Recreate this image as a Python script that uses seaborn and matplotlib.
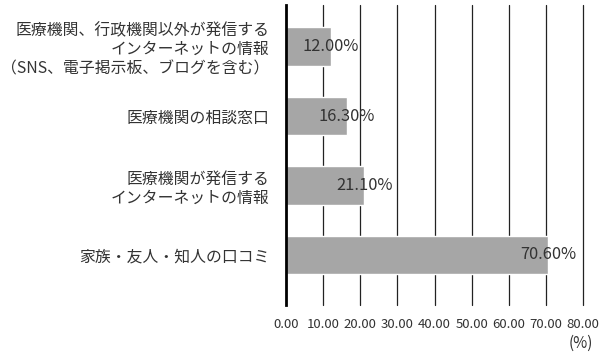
import matplotlib
matplotlib.use("Agg")
import matplotlib.pyplot as plt
import seaborn as sns
import pandas as pd

# データ
categories = [
    "医療機関、行政機関以外が発信する\nインターネットの情報\n（SNS、電子掲示板、ブログを含む）",
    "医療機関の相談窓口",
    "医療機関が発信する\nインターネットの情報",
    "家族・友人・知人の口コミ",
]
values = [12.00, 16.30, 21.10, 70.60]
xticks = [0, 10, 20, 30, 40, 50, 60, 70, 80]

df = pd.DataFrame({"cat": categories, "val": values})

sns.set_theme(style="white")
plt.rcParams["font.family"] = ["Noto Sans CJK JP", "DejaVu Sans"]

fig = plt.figure(figsize=(6, 3.59), dpi=100)
ax = fig.add_axes([0.4767, 0.1504, 0.495, 0.836])

sns.barplot(data=df, x="val", y="cat", orient="h", color="#a6a6a6",
            saturation=1, width=0.55, ax=ax, zorder=2)

ax.set_xlim(0, 80)
ax.set_ylim(3.72, -0.6)
ax.set_xticks(xticks)
ax.set_xticklabels([f"{t:.2f}" for t in xticks], fontsize=9.5, color="#333333")
ax.tick_params(axis="x", length=0, pad=9)
ax.tick_params(axis="y", length=0, pad=12)
for lbl in ax.get_yticklabels():
    lbl.set_fontsize(11.4)
    lbl.set_color("#333333")
    lbl.set_linespacing(1.18)
    lbl.set_multialignment("right")

ax.set_xlabel("")
ax.set_ylabel("")
for s in ["top", "right", "bottom"]:
    ax.spines[s].set_visible(False)
ax.spines["left"].set_color("black")
ax.spines["left"].set_linewidth(2)
ax.spines["left"].set_zorder(4)

# 縦のグリッド線
for t in xticks[1:]:
    ax.axvline(t, color="#222222", linewidth=0.9, zorder=1, clip_on=False)

for i, v in enumerate(values):
    ax.text(v, i, f"{v:.2f}%", ha="center", va="center", fontsize=11.8,
            color="#333333", zorder=3)

fig.text(0.968, 0.045, "(%)", ha="center", va="center", fontsize=11,
         color="#333333")

fig.savefig("out.png", dpi=100)
